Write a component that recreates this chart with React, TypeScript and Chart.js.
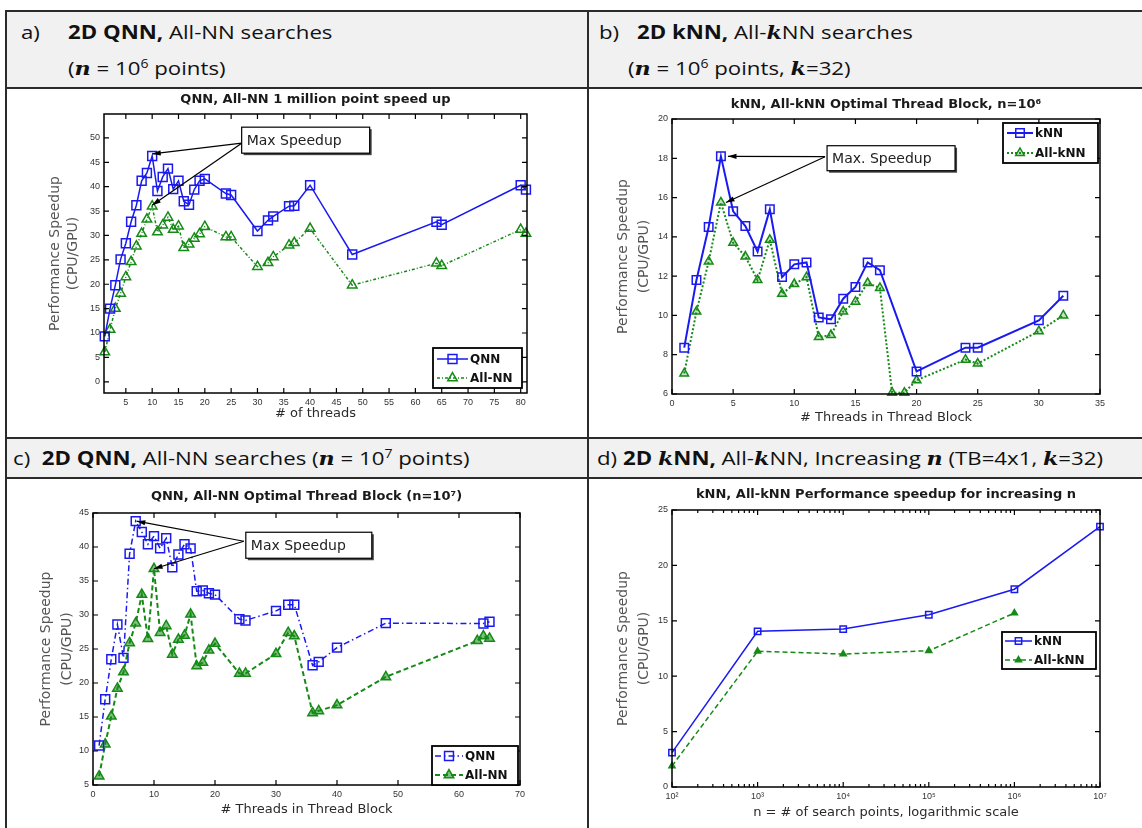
import React, { useEffect, useRef } from 'react';
import { Chart, registerables } from 'chart.js';

Chart.register(...registerables);

// ---------------- data ----------------
// a) QNN / All-NN, n = 10^6
const A_THREADS = [1, 2, 3, 4, 5, 6, 7, 8, 9, 10, 11, 12, 13, 14, 15, 16, 17, 18, 19, 20, 24, 25, 30, 32, 33, 36, 37, 40, 48, 64, 65, 80, 81];
const A_QNN = [9.3, 15.0, 19.8, 25.1, 28.4, 32.8, 36.2, 41.2, 42.8, 46.3, 39.1, 42.0, 43.7, 39.5, 41.2, 37.0, 36.3, 39.4, 41.2, 41.6, 38.6, 38.3, 30.9, 33.1, 33.9, 36.0, 36.1, 40.3, 26.1, 32.8, 32.2, 40.3, 39.4];
const A_ALLNN = [6.1, 10.7, 15.0, 18.1, 21.5, 24.6, 27.8, 30.4, 33.3, 36.0, 30.7, 32.1, 33.7, 31.2, 31.9, 27.5, 28.2, 29.4, 30.3, 31.8, 29.7, 29.7, 23.6, 24.4, 25.6, 28.0, 28.5, 31.4, 19.8, 24.3, 23.8, 31.2, 30.4];
const A_X_TICKS = [5, 10, 15, 20, 25, 30, 35, 40, 45, 50, 55, 60, 65, 70, 75, 80];
const A_Y_TICKS = [0, 5, 10, 15, 20, 25, 30, 35, 40, 45, 50];

// b) kNN / All-kNN, n = 10^6, k = 32
const B_THREADS_KNN = [1, 2, 3, 4, 5, 6, 7, 8, 9, 10, 11, 12, 13, 14, 15, 16, 17, 20, 24, 25, 30, 32];
const B_KNN = [8.36, 11.8, 14.5, 18.1, 15.3, 14.55, 13.25, 15.4, 11.95, 12.6, 12.7, 9.9, 9.8, 10.85, 11.45, 12.7, 12.3, 7.15, 8.36, 8.36, 9.75, 11.0];
const B_THREADS_ALLKNN = [1, 2, 3, 4, 5, 6, 7, 8, 9, 10, 11, 12, 13, 14, 15, 16, 17, 18, 19, 20, 24, 25, 30, 32];
const B_ALLKNN = [7.05, 10.2, 12.75, 15.75, 13.7, 13.0, 11.8, 13.85, 11.1, 11.6, 11.95, 8.9, 9.0, 10.2, 10.7, 11.65, 11.4, 6.07, 6.07, 6.7, 7.75, 7.55, 9.2, 10.0];
const B_X_TICKS = [0, 5, 10, 15, 20, 25, 30, 35];
const B_Y_TICKS = [6, 8, 10, 12, 14, 16, 18, 20];

// c) QNN / All-NN, n = 10^7
const C_THREADS_QNN = [1, 2, 3, 4, 5, 6, 7, 8, 9, 10, 11, 12, 13, 14, 15, 16, 17, 18, 19, 20, 24, 25, 30, 32, 33, 36, 37, 40, 48, 64, 65];
const C_QNN = [10.8, 17.6, 23.5, 28.6, 23.7, 39.0, 43.8, 42.2, 40.4, 41.6, 39.8, 41.3, 37.0, 38.9, 40.4, 39.8, 33.5, 33.6, 33.2, 33.0, 29.4, 29.2, 30.6, 31.5, 31.5, 22.6, 23.1, 25.2, 28.8, 28.75, 29.0];
const C_THREADS_ALLNN = [1, 2, 3, 4, 5, 6, 7, 8, 9, 10, 11, 12, 13, 14, 15, 16, 17, 18, 19, 20, 24, 25, 30, 32, 33, 36, 37, 40, 48, 63, 64, 65];
const C_ALLNN = [6.3, 11.0, 15.1, 19.2, 21.6, 25.9, 28.8, 33.0, 26.5, 36.8, 27.4, 28.4, 24.2, 26.4, 27.0, 30.1, 22.5, 23.0, 24.8, 25.8, 21.4, 21.4, 24.3, 27.4, 26.9, 15.6, 15.9, 16.75, 20.9, 26.2, 26.9, 26.55];
const C_X_TICKS = [0, 10, 20, 30, 40, 50, 60, 70];
const C_Y_TICKS = [5, 10, 15, 20, 25, 30, 35, 40, 45];

// d) kNN / All-kNN for increasing n (TB = 4x1, k = 32)
const D_N_KNN = [1e2, 1e3, 1e4, 1e5, 1e6, 1e7];
const D_KNN = [3.1, 14.05, 14.25, 15.55, 17.85, 23.5];
const D_N_ALLKNN = [1e2, 1e3, 1e4, 1e5, 1e6];
const D_ALLKNN = [1.9, 12.25, 12.0, 12.3, 15.7];
const D_X_TICKS = [1e2, 1e3, 1e4, 1e5, 1e6, 1e7];
const D_X_TICK_LABELS = ['10²', '10³', '10⁴', '10⁵', '10⁶', '10⁷'];
const D_Y_TICKS = [0, 5, 10, 15, 20, 25];

// ---------------- styling ----------------
const BLUE = '#1a1af0';
const GREEN = '#168a16';
const TICK_FONT = { family: "'Liberation Sans', Arial, sans-serif", size: 9 };
const TICK_COLOR = '#333';
const TITLE_FONT = "bold 13px 'DejaVu Sans', sans-serif";
const AXIS_FONT = "13px 'DejaVu Sans', sans-serif";
const YAXIS_FONT = "14px 'DejaVu Sans', sans-serif";
const LEGEND_FONT = "bold 12px 'DejaVu Sans', sans-serif";
const ANN_FONT = "14px 'DejaVu Sans', sans-serif";

type MarkerKind = 'rect' | 'triangle';
interface Series {
  label: string; xs: number[]; ys: number[]; color: string; dash: number[]; width: number;
  marker: MarkerKind; radius: number; fill: string;
}
interface Ann {
  text: string; x: number; y: number; w: number; h: number; oy: number; ox: number;
  targets: { x: number; y: number; dx: number; dy: number }[];
}
interface PanelCfg {
  left: number; top: number; w: number; h: number;
  area: { l: number; t: number; r: number; b: number };
  xType: 'linear' | 'logarithmic';
  xMin: number; xMax: number; yMin: number; yMax: number;
  xTicks: number[]; yTicks: number[]; xTickLabels?: string[]; minorX?: number[];
  series: Series[];
  title: string; xTitle: string; yTitle: string[];
  titleDy: number; xTitleDy: number; yTitleDx: number[];
  legend: { x: number; y: number; w: number; h: number; rows: number[]; lx0: number; lx1: number };
  ann?: Ann;
}

function drawMarker(ctx: CanvasRenderingContext2D, kind: MarkerKind, x: number, y: number, r: number, stroke: string, fill: string) {
  ctx.beginPath();
  if (kind === 'rect') {
    const s = r * Math.SQRT1_2;
    ctx.rect(x - s, y - s, 2 * s, 2 * s);
  } else {
    ctx.moveTo(x, y - r);
    ctx.lineTo(x + r * 0.866, y + r * 0.5);
    ctx.lineTo(x - r * 0.866, y + r * 0.5);
    ctx.closePath();
  }
  ctx.fillStyle = fill;
  ctx.fill();
  ctx.setLineDash([]);
  ctx.strokeStyle = stroke;
  ctx.lineWidth = 1.5;
  ctx.stroke();
}

function makeFigPlugin(p: PanelCfg) {
  return {
    id: 'fig',
    afterDatasetsDraw(chart: any) {
      const ctx: CanvasRenderingContext2D = chart.ctx;
      const ca = chart.chartArea;
      const xs = chart.scales.x;
      const ys = chart.scales.y;
      ctx.save();
      // axes box
      ctx.setLineDash([]);
      ctx.strokeStyle = '#000';
      ctx.lineWidth = 1.5;
      ctx.strokeRect(ca.left, ca.top, ca.right - ca.left, ca.bottom - ca.top);
      // inward ticks
      const TL = 5;
      ctx.lineWidth = 1.2;
      ctx.beginPath();
      xs.ticks.forEach((t: any) => {
        const px = xs.getPixelForValue(t.value);
        ctx.moveTo(px, ca.bottom); ctx.lineTo(px, ca.bottom - TL);
        ctx.moveTo(px, ca.top); ctx.lineTo(px, ca.top + TL);
      });
      (p.minorX || []).forEach((v) => {
        const px = xs.getPixelForValue(v);
        ctx.moveTo(px, ca.bottom); ctx.lineTo(px, ca.bottom - 3);
        ctx.moveTo(px, ca.top); ctx.lineTo(px, ca.top + 3);
      });
      ys.ticks.forEach((t: any) => {
        const py = ys.getPixelForValue(t.value);
        ctx.moveTo(ca.left, py); ctx.lineTo(ca.left + TL, py);
        ctx.moveTo(ca.right, py); ctx.lineTo(ca.right - TL, py);
      });
      ctx.stroke();

      // annotation
      if (p.ann) {
        const a = p.ann;
        const bx = xs.getPixelForValue(a.x);
        const by = ys.getPixelForValue(a.y);
        const ox = bx + a.ox;
        const oy = by + a.oy;
        ctx.strokeStyle = '#000';
        ctx.fillStyle = '#000';
        ctx.lineWidth = 1.2;
        a.targets.forEach((t) => {
          const tx = xs.getPixelForValue(t.x) + t.dx;
          const ty = ys.getPixelForValue(t.y) + t.dy;
          ctx.beginPath();
          ctx.moveTo(ox, oy);
          ctx.lineTo(tx, ty);
          ctx.stroke();
          const ang = Math.atan2(ty - oy, tx - ox);
          const L = 9;
          ctx.beginPath();
          ctx.moveTo(tx, ty);
          ctx.lineTo(tx - L * Math.cos(ang - 0.3), ty - L * Math.sin(ang - 0.3));
          ctx.lineTo(tx - L * Math.cos(ang + 0.3), ty - L * Math.sin(ang + 0.3));
          ctx.closePath();
          ctx.fill();
        });
        ctx.fillStyle = '#444';
        ctx.fillRect(bx + 2, by + 2, a.w, a.h);
        ctx.fillStyle = '#fff';
        ctx.fillRect(bx, by, a.w, a.h);
        ctx.strokeStyle = '#000';
        ctx.lineWidth = 1.2;
        ctx.strokeRect(bx, by, a.w, a.h);
        ctx.fillStyle = '#222';
        ctx.font = ANN_FONT;
        ctx.textAlign = 'left';
        ctx.textBaseline = 'middle';
        ctx.fillText(a.text, bx + 5, by + a.h / 2 + 1);
      }

      // legend
      const lg = p.legend;
      ctx.fillStyle = '#fff';
      ctx.fillRect(lg.x, lg.y, lg.w, lg.h);
      ctx.strokeStyle = '#000';
      ctx.lineWidth = 1.8;
      ctx.setLineDash([]);
      ctx.strokeRect(lg.x, lg.y, lg.w, lg.h);
      p.series.forEach((s, i) => {
        const y = lg.rows[i];
        ctx.beginPath();
        ctx.strokeStyle = s.color;
        ctx.lineWidth = s.width;
        ctx.setLineDash(s.dash);
        ctx.moveTo(lg.lx0, y);
        ctx.lineTo(lg.lx1, y);
        ctx.stroke();
        drawMarker(ctx, s.marker, (lg.lx0 + lg.lx1) / 2, y, s.radius, s.color, s.fill);
        ctx.fillStyle = '#111';
        ctx.font = LEGEND_FONT;
        ctx.textAlign = 'left';
        ctx.textBaseline = 'middle';
        ctx.fillText(s.label, lg.lx1 + 2, y + 1);
      });

      // titles
      const cx = (ca.left + ca.right) / 2;
      ctx.fillStyle = '#1a1a1a';
      ctx.font = TITLE_FONT;
      ctx.textAlign = 'center';
      ctx.textBaseline = 'middle';
      ctx.fillText(p.title, cx, ca.top + p.titleDy);
      ctx.fillStyle = '#2a2a2a';
      ctx.font = AXIS_FONT;
      ctx.fillText(p.xTitle, cx, ca.bottom + p.xTitleDy);
      const cy = (ca.top + ca.bottom) / 2;
      ctx.fillStyle = '#555';
      ctx.font = YAXIS_FONT;
      p.yTitle.forEach((line, i) => {
        ctx.save();
        ctx.translate(ca.left + p.yTitleDx[i], cy);
        ctx.rotate(-Math.PI / 2);
        ctx.fillText(line, 0, 0);
        ctx.restore();
      });
      ctx.restore();
    },
  };
}

function makeDataset(s: Series) {
  return {
    label: s.label,
    data: s.xs.map((x, i) => ({ x, y: s.ys[i] })),
    showLine: true,
    borderColor: s.color,
    borderWidth: s.width,
    borderDash: s.dash,
    pointStyle: s.marker,
    pointRadius: s.radius,
    pointBorderColor: s.color,
    pointBackgroundColor: s.fill,
    pointBorderWidth: 1.5,
    tension: 0,
    clip: false as any,
  };
}

function buildConfig(p: PanelCfg): any {
  const area = p.area;
  return {
    type: 'scatter',
    data: { datasets: p.series.map(makeDataset) },
    options: {
      animation: false,
      responsive: false,
      maintainAspectRatio: false,
      devicePixelRatio: 1,
      events: [],
      layout: { padding: { top: area.t, right: p.w - area.r, left: 0, bottom: 0 } },
      plugins: { legend: { display: false }, title: { display: false }, tooltip: { enabled: false } },
      scales: {
        x: {
          type: p.xType,
          position: 'bottom',
          min: p.xMin,
          max: p.xMax,
          bounds: 'data',
          afterBuildTicks: (s: any) => { s.ticks = p.xTicks.map((v) => ({ value: v })); },
          afterFit: (s: any) => { s.height = p.h - area.b; },
          grid: { display: false, drawTicks: false },
          border: { display: false },
          ticks: {
            autoSkip: false, maxRotation: 0, minRotation: 0, padding: 4,
            color: TICK_COLOR, font: TICK_FONT,
            callback: (v: any, i: number) => (p.xTickLabels ? p.xTickLabels[i] : String(v)),
          },
        },
        y: {
          type: 'linear',
          position: 'left',
          min: p.yMin,
          max: p.yMax,
          bounds: 'data',
          afterBuildTicks: (s: any) => { s.ticks = p.yTicks.map((v) => ({ value: v })); },
          afterFit: (s: any) => { s.width = area.l; },
          grid: { display: false, drawTicks: false },
          border: { display: false },
          ticks: { autoSkip: false, padding: 4, color: TICK_COLOR, font: TICK_FONT, callback: (v: any) => String(v) },
        },
      },
    },
    plugins: [makeFigPlugin(p)],
  };
}

const Y_TITLE = ['Performance Speedup', '(CPU/GPU)'];

const PANELS: PanelCfg[] = [
  {
    left: 6, top: 89, w: 581, h: 348,
    area: { l: 98, t: 25, r: 521, b: 304 },
    xType: 'linear', xMin: 0.85, xMax: 81.2, yMin: -2.3, yMax: 54.9,
    xTicks: A_X_TICKS, yTicks: A_Y_TICKS,
    series: [
      { label: 'QNN', xs: A_THREADS, ys: A_QNN, color: BLUE, dash: [], width: 1.5, marker: 'rect', radius: 6.3, fill: 'rgba(255,255,255,0)' },
      { label: 'All-NN', xs: A_THREADS, ys: A_ALLNN, color: GREEN, dash: [3, 2, 1, 2], width: 1.5, marker: 'triangle', radius: 5.5, fill: 'rgba(255,255,255,0)' },
    ],
    title: 'QNN, All-NN 1 million point speed up', xTitle: '# of threads', yTitle: Y_TITLE,
    titleDy: -14, xTitleDy: 21, yTitleDx: [-49, -31],
    legend: { x: 427, y: 259, w: 89, h: 40, rows: [270, 289], lx0: 431, lx1: 462 },
    ann: {
      text: 'Max Speedup', x: 27.0, y: 52.2, w: 128, h: 26, ox: 0, oy: 16,
      targets: [
        { x: A_THREADS[9], y: A_QNN[9], dx: 0, dy: -2 },
        { x: A_THREADS[9], y: A_ALLNN[9], dx: 0, dy: -1 },
      ],
    },
  },
  {
    left: 589, top: 89, w: 553, h: 348,
    area: { l: 83, t: 30, r: 511, b: 305 },
    xType: 'linear', xMin: 0, xMax: 35, yMin: 6, yMax: 20,
    xTicks: B_X_TICKS, yTicks: B_Y_TICKS,
    series: [
      { label: 'kNN', xs: B_THREADS_KNN, ys: B_KNN, color: BLUE, dash: [], width: 2, marker: 'rect', radius: 6, fill: 'rgba(255,255,255,0)' },
      { label: 'All-kNN', xs: B_THREADS_ALLKNN, ys: B_ALLKNN, color: GREEN, dash: [2, 2], width: 2, marker: 'triangle', radius: 5, fill: 'rgba(22,138,22,0.25)' },
    ],
    title: 'kNN, All-kNN Optimal Thread Block, n=10⁶', xTitle: '# Threads in Thread Block', yTitle: Y_TITLE,
    titleDy: -14, xTitleDy: 24, yTitleDx: [-49, -28],
    legend: { x: 414, y: 34, w: 95, h: 40, rows: [44, 64], lx0: 418, lx1: 444 },
    ann: {
      text: 'Max. Speedup', x: 12.68, y: 18.64, w: 128, h: 25, ox: -2, oy: 11,
      targets: [
        { x: B_THREADS_KNN[3], y: B_KNN[3], dx: 7, dy: 0 },
        { x: B_THREADS_ALLKNN[3], y: B_ALLKNN[3], dx: 5, dy: 0 },
      ],
    },
  },
  {
    left: 6, top: 479, w: 581, h: 349,
    area: { l: 87, t: 34, r: 514, b: 306 },
    xType: 'linear', xMin: 0, xMax: 70, yMin: 5, yMax: 45,
    xTicks: C_X_TICKS, yTicks: C_Y_TICKS,
    series: [
      { label: 'QNN', xs: C_THREADS_QNN, ys: C_QNN, color: BLUE, dash: [6, 3, 1.5, 3], width: 1.5, marker: 'rect', radius: 6.3, fill: 'rgba(255,255,255,0)' },
      { label: 'All-NN', xs: C_THREADS_ALLNN, ys: C_ALLNN, color: GREEN, dash: [5, 3], width: 2, marker: 'triangle', radius: 5.5, fill: 'rgba(22,138,22,0.55)' },
    ],
    title: 'QNN, All-NN Optimal Thread Block (n=10⁷)', xTitle: '# Threads in Thread Block', yTitle: Y_TITLE,
    titleDy: -16, xTitleDy: 25, yTitleDx: [-47, -26],
    legend: { x: 426, y: 267, w: 86, h: 39, rows: [277, 296], lx0: 429, lx1: 457 },
    ann: {
      text: 'Max Speedup', x: 25.05, y: 42.17, w: 126, h: 26, ox: -2, oy: 9,
      targets: [
        { x: C_THREADS_QNN[6], y: C_QNN[6], dx: 1, dy: 0 },
        { x: C_THREADS_ALLNN[9], y: C_ALLNN[9], dx: 0, dy: 0 },
      ],
    },
  },
  {
    left: 589, top: 479, w: 553, h: 349,
    area: { l: 83, t: 31, r: 511, b: 308 },
    xType: 'logarithmic', xMin: 1e2, xMax: 1e7, yMin: 0, yMax: 25,
    xTicks: D_X_TICKS, yTicks: D_Y_TICKS, xTickLabels: D_X_TICK_LABELS,
    minorX: [2, 3, 4, 5, 6, 7, 8, 9].flatMap((m) => [1e2, 1e3, 1e4, 1e5, 1e6].map((d) => m * d)),
    series: [
      { label: 'kNN', xs: D_N_KNN, ys: D_KNN, color: BLUE, dash: [], width: 1.5, marker: 'rect', radius: 4.5, fill: 'rgba(255,255,255,0)' },
      { label: 'All-kNN', xs: D_N_ALLKNN, ys: D_ALLKNN, color: GREEN, dash: [5, 3], width: 1.5, marker: 'triangle', radius: 3.5, fill: GREEN },
    ],
    title: 'kNN, All-kNN Performance speedup for increasing n', xTitle: 'n = # of search points, logarithmic scale', yTitle: Y_TITLE,
    titleDy: -15, xTitleDy: 26, yTitleDx: [-49, -28],
    legend: { x: 413, y: 153, w: 94, h: 37, rows: [162, 181], lx0: 416, lx1: 443 },
  },
];

function Panel({ cfg }: { cfg: PanelCfg }) {
  const ref = useRef<HTMLCanvasElement>(null);
  useEffect(() => {
    if (!ref.current) return;
    const chart = new Chart(ref.current, buildConfig(cfg));
    return () => chart.destroy();
  }, [cfg]);
  return (
    <canvas
      ref={ref}
      width={cfg.w}
      height={cfg.h}
      style={{ position: 'absolute', left: cfg.left, top: cfg.top, width: cfg.w, height: cfg.h }}
    />
  );
}

const HDR: React.CSSProperties = {
  position: 'absolute',
  fontFamily: "'Open Sans', 'Noto Sans', sans-serif",
  fontSize: 19,
  lineHeight: '24px',
  color: '#111',
  whiteSpace: 'nowrap',
  transformOrigin: 'left center',
  transform: 'scaleX(1.17)',
};
const MATH: React.CSSProperties = { fontFamily: "'DejaVu Serif', serif", fontStyle: 'italic', fontWeight: 700 };
const SUP: React.CSSProperties = { fontSize: 12, verticalAlign: 'super', lineHeight: 0 };
const LINE = '#2b2b2b';

function HLine({ y }: { y: number }) {
  return <div style={{ position: 'absolute', left: 5, top: y, width: 1137, height: 2, background: LINE }} />;
}
function VLine({ x }: { x: number }) {
  return <div style={{ position: 'absolute', left: x, top: 10, width: 2, height: 818, background: LINE }} />;
}

export default function App() {
  return (
    <div style={{ position: 'absolute', left: 0, top: 0, width: 1142, height: 828, background: '#fff', overflow: 'hidden' }}>
      <div style={{ position: 'absolute', left: 5, top: 10, width: 1137, height: 78, background: '#f1f1f1' }} />
      <div style={{ position: 'absolute', left: 5, top: 437, width: 1137, height: 41, background: '#f1f1f1' }} />
      {PANELS.map((p, i) => (
        <Panel key={i} cfg={p} />
      ))}
      <HLine y={10} />
      <HLine y={87} />
      <HLine y={437} />
      <HLine y={477} />
      <VLine x={5} />
      <VLine x={587} />

      <div style={{ ...HDR, left: 21, top: 20 }}>a)</div>
      <div style={{ ...HDR, left: 68, top: 20 }}><b>2D QNN,</b> All-NN searches</div>
      <div style={{ ...HDR, left: 68, top: 56 }}>
        (<span style={MATH}>n</span> = 10<span style={SUP}>6</span> points)
      </div>

      <div style={{ ...HDR, left: 599, top: 20 }}>b)</div>
      <div style={{ ...HDR, left: 637, top: 20 }}>
        <b>2D kNN,</b> All-<span style={MATH}>k</span>NN searches
      </div>
      <div style={{ ...HDR, left: 628, top: 56 }}>
        (<span style={MATH}>n</span> = 10<span style={SUP}>6</span> points, <span style={MATH}>k</span>=32)
      </div>

      <div style={{ ...HDR, left: 13, top: 446 }}>
        c)&nbsp; <b>2D QNN,</b> All-NN searches (<span style={MATH}>n</span> = 10<span style={SUP}>7</span> points)
      </div>
      <div style={{ ...HDR, left: 597, top: 446 }}>
        d) <b>2D <span style={MATH}>k</span>NN,</b> All-<span style={MATH}>k</span>NN, Increasing <span style={MATH}>n</span> (TB=4x1, <span style={MATH}>k</span>=32)
      </div>
    </div>
  );
}
